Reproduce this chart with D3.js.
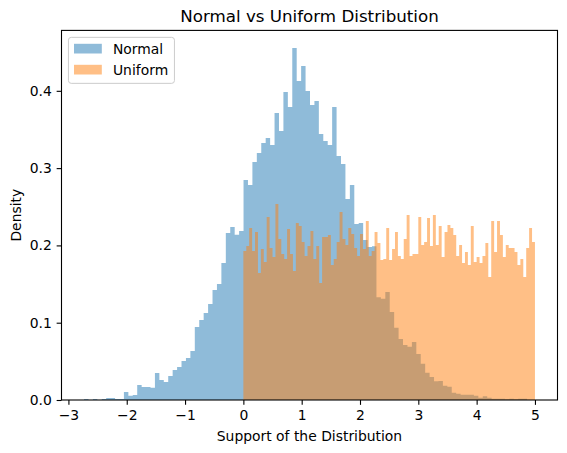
<!DOCTYPE html>
<html>
<head>
<meta charset="utf-8">
<script src="https://cdn.jsdelivr.net/npm/d3@7"></script>
<style>
body{margin:0;background:#fff}
text{font-family:"DejaVu Sans",sans-serif}
</style>
</head>
<body>
<div id="chart"></div>
<script>
// histogram data (density per bin, 100 bins each)
var normalRange = [-2.732, 4.865];
var uniformRange = [0, 5];
var normalDensity = [
	0.0013,0,0.0013,0,0.0013,0.0026,0.0026,0.0013,0.0013,0.0103,
	0.0056,0.0065,0.0194,0.0168,0.0168,0.0157,0.035,0.0259,0.0233,0.031,
	0.0388,0.0427,0.0505,0.0543,0.0634,0.0944,0.1035,0.1125,0.1242,0.1423,
	0.150,0.1772,0.216,0.2238,0.2139,0.2186,0.2846,0.278,0.308,0.3195,
	0.3325,0.339,0.33,0.3713,0.348,0.3984,0.379,0.4554,0.4127,0.432,
	0.3997,0.3816,0.3868,0.344,0.335,0.33,0.379,0.3157,0.3053,0.26,
	0.278,0.2277,0.229,0.207,0.198,0.199,0.1329,0.131,0.1397,0.1138,
	0.0935,0.0789,0.0711,0.069,0.075,0.0595,0.047,0.0353,0.0298,0.0241,
	0.0246,0.0185,0.0172,0.0095,0.0082,0.0069,0.0069,0.0069,0.0056,0.003,
	0.005,0.003,0.0017,0.0017,0.0017,0.0009,0.0017,0.0009,0.0017,0.0017
];
var uniformDensity = [
	0.1928,0.1992,0.2225,0.1928,0.2173,0.1643,0.1953,0.1785,0.2367,0.1966,
	0.185,0.2536,0.2083,0.1889,0.1824,0.2212,0.1889,0.1669,0.229,0.2251,
	0.2044,0.1863,0.1992,0.2186,0.1824,0.1992,0.1514,0.2109,0.2109,0.2135,
	0.1746,0.1824,0.2044,0.2432,0.2083,0.2005,0.2225,0.2147,0.1966,0.1863,
	0.2147,0.1953,0.2316,0.1863,0.1928,0.2173,0.2031,0.1811,0.1824,0.2225,
	0.1811,0.1953,0.2173,0.1863,0.1824,0.2083,0.2393,0.1863,0.1889,0.1889,
	0.2367,0.2005,0.2044,0.2354,0.1992,0.2393,0.2005,0.2251,0.185,0.2173,
	0.2264,0.2225,0.2135,0.1863,0.2005,0.1772,0.1915,0.1746,0.2251,0.1785,
	0.185,0.1772,0.1863,0.2031,0.1591,0.2316,0.1915,0.2316,0.2135,0.185,
	0.2005,0.1966,0.1966,0.1915,0.1746,0.1824,0.1591,0.1966,0.2225,0.2044
];
var seriesNames = ["Normal", "Uniform"];
var seriesColors = ["#1f77b4", "#ff7f0e"];
var xTicks = [-3, -2, -1, 0, 1, 2, 3, 4, 5];
var yTicks = [0, 0.1, 0.2, 0.3, 0.4];
var titleText = "Normal vs Uniform Distribution";
var xLabel = "Support of the Distribution";
var yLabel = "Density";

var width = 567;
var height = 453;
var plotLeft = 61.5, plotRight = 557.5, plotTop = 30.4, plotBottom = 400;
var fs = 13.9;

function makeBins(range, vals){
	var w = (range[1] - range[0]) / vals.length;
	return vals.map(function(v, i){
		return {x0: range[0] + i*w, x1: range[0] + (i+1)*w, v: v};
	});
}

var series = [makeBins(normalRange, normalDensity), makeBins(uniformRange, uniformDensity)];

var lo = Math.min(normalRange[0], uniformRange[0]);
var hi = Math.max(normalRange[1], uniformRange[1]);
var pad = (hi - lo) * 0.05;
var x = d3.scaleLinear().domain([lo - pad, hi + pad]).range([plotLeft, plotRight]);
var ymax = d3.max(normalDensity.concat(uniformDensity)) * 1.05;
var y = d3.scaleLinear().domain([0, ymax]).range([plotBottom, plotTop]);

var svg = d3.select("#chart").append("svg")
	.attr("width", width)
	.attr("height", height)
	.style("display", "block")
	.style("background", "#fff");

// one path per histogram so neighbouring bars do not leave seams
series.forEach(function(bins, s){
	var p = d3.path();
	bins.forEach(function(b){
		if(b.v <= 0) return;
		p.rect(x(b.x0), y(b.v), x(b.x1) - x(b.x0), y(0) - y(b.v));
	});
	svg.append("path")
		.attr("d", p.toString())
		.attr("fill", seriesColors[s])
		.attr("fill-opacity", 0.5);
});

var tickLen = 4.86;

var xAxis = svg.append("g")
	.attr("transform", "translate(0," + plotBottom + ")")
	.call(d3.axisBottom(x).tickValues(xTicks).tickSize(tickLen).tickPadding(4.86)
		.tickFormat(d3.format("d")));
var yAxis = svg.append("g")
	.attr("transform", "translate(" + plotLeft + ",0)")
	.call(d3.axisLeft(y).tickValues(yTicks).tickSize(tickLen).tickPadding(4.86)
		.tickFormat(d3.format(".1f")));

[xAxis, yAxis].forEach(function(g){
	g.select(".domain").remove();
	g.selectAll("line").attr("stroke", "#000").attr("stroke-width", 1.1);
	g.selectAll("text").attr("fill", "#000")
		.style("font-size", fs + "px")
		.style("font-family", '"DejaVu Sans", sans-serif');
});

svg.append("rect")
	.attr("x", plotLeft)
	.attr("y", plotTop)
	.attr("width", plotRight - plotLeft)
	.attr("height", plotBottom - plotTop)
	.attr("fill", "none")
	.attr("stroke", "#000")
	.attr("stroke-width", 1.1);

svg.append("text")
	.attr("x", (plotLeft + plotRight)/2)
	.attr("y", 22)
	.attr("text-anchor", "middle")
	.style("font-size", "16.7px")
	.text(titleText);

svg.append("text")
	.attr("x", (plotLeft + plotRight)/2)
	.attr("y", 441)
	.attr("text-anchor", "middle")
	.style("font-size", fs + "px")
	.text(xLabel);

svg.append("text")
	.attr("transform", "translate(20.5," + (plotTop + plotBottom)/2 + ") rotate(-90)")
	.attr("text-anchor", "middle")
	.style("font-size", fs + "px")
	.text(yLabel);

// legend, upper left
var lg = svg.append("g").attr("transform", "translate(" + (plotLeft + 6.95) + "," + (plotTop + 6.95) + ")");
lg.append("rect")
	.attr("x", 0).attr("y", 0)
	.attr("width", 106).attr("height", 46)
	.attr("rx", 2.8).attr("ry", 2.8)
	.attr("fill", "#fff").attr("fill-opacity", 0.8)
	.attr("stroke", "#cccccc").attr("stroke-width", 1);
seriesNames.forEach(function(name, i){
	var cy = 11.3 + i*21;
	lg.append("rect")
		.attr("x", 5.56).attr("y", cy - 4.85)
		.attr("width", 27.8).attr("height", 9.7)
		.attr("fill", seriesColors[i]).attr("fill-opacity", 0.5);
	lg.append("text")
		.attr("x", 44.5).attr("y", cy + 5)
		.style("font-size", fs + "px")
		.text(name);
});
</script>
</body>
</html>
